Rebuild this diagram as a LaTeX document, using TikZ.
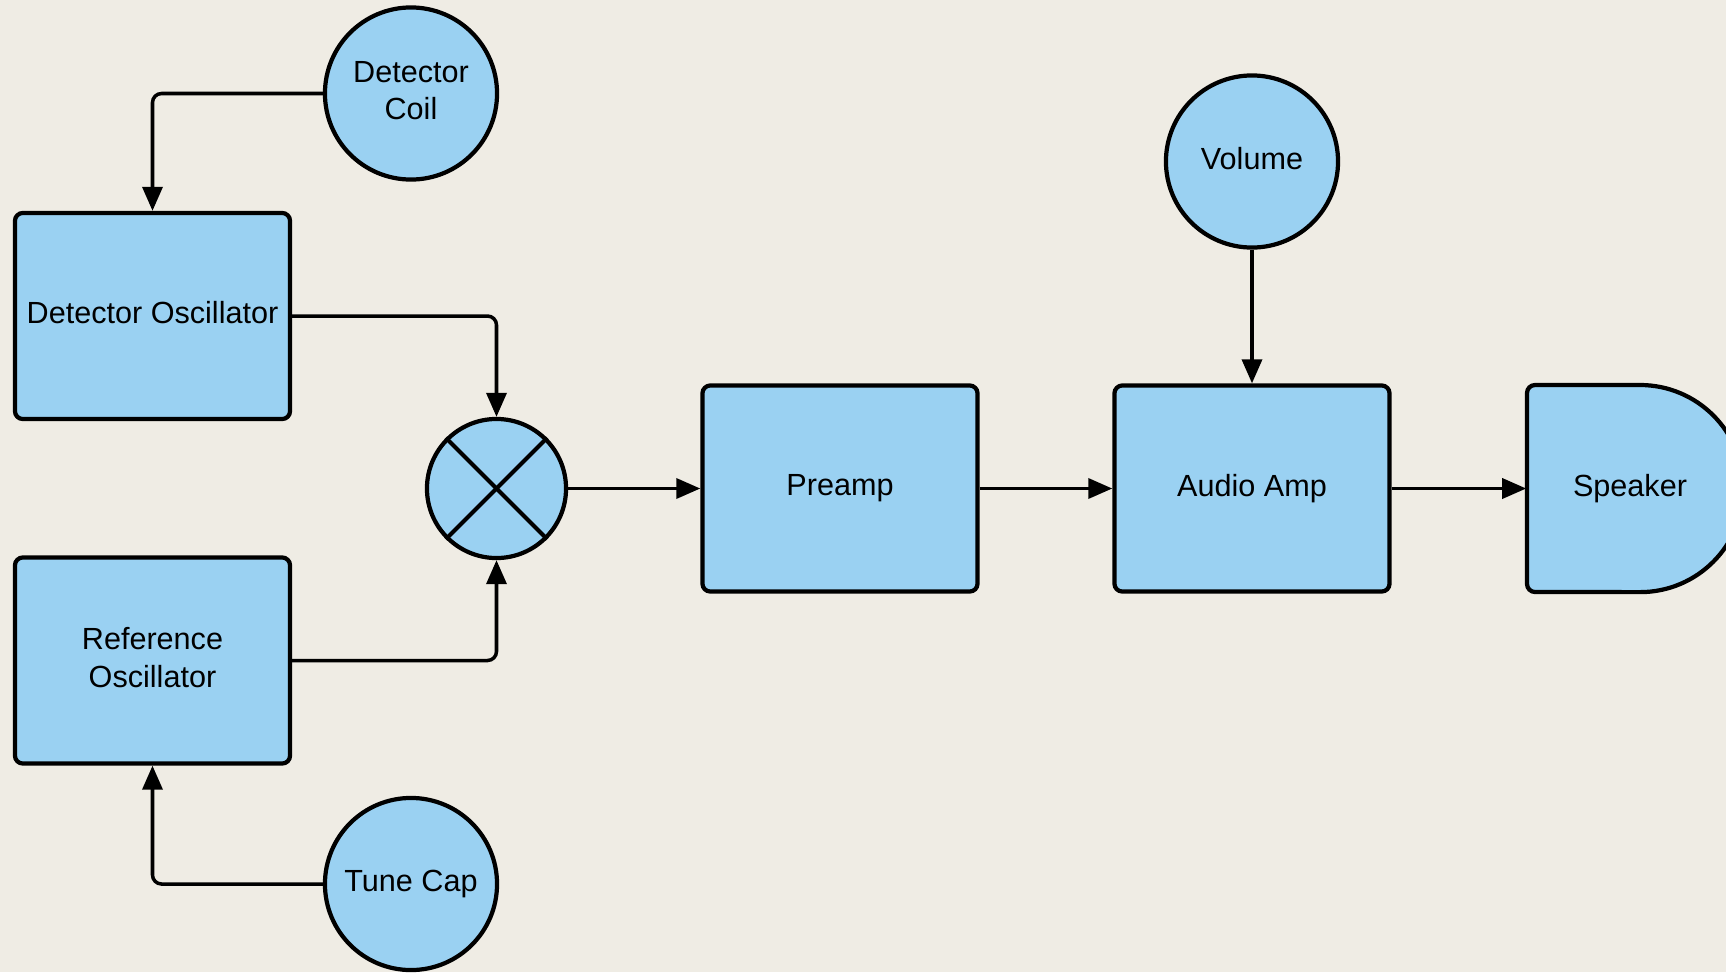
\documentclass[tikz,border=0pt]{standalone}
\usepackage{fontspec}
\setmainfont{Liberation Sans}
\usepackage{tikz}
\usetikzlibrary{arrows.meta}
\definecolor{lblue}{RGB}{154,209,242}
\definecolor{paper}{RGB}{239,236,228}
\tikzset{every picture/.style={x=0.01cm, y=0.01cm}}
\tikzset{every node/.style={font=\fontsize{8.7}{10.6}\selectfont, align=center, execute at end node=\vphantom{p}}}
\tikzset{block/.style={draw, fill=lblue, line width=1.2pt, rounded corners=0.08cm, minimum width=2.75cm, minimum height=2.06cm, inner sep=0pt}}
\tikzset{knob/.style={draw, fill=lblue, line width=1.2pt, circle, minimum size=1.72cm, inner sep=0pt}}
\tikzset{wire/.style={line width=1pt, rounded corners=0.09cm, -{Triangle[length=0.24cm, width=0.2cm]}}}

\begin{document}
\begin{tikzpicture}
\fill[paper] (0,0) rectangle (1726,-972);
\useasboundingbox (0,0) rectangle (1726,-972);
\clip (0,0) rectangle (1726,-972);
\node[knob] (1) at (411,-93.5) {Detector\\Coil};
\node[block] (2) at (152.5,-316) {Detector Oscillator};
\node[block] (3) at (152.5,-660.5) {Reference\\Oscillator};
\node[knob] (4) at (411,-884) {Tune Cap};
\node[knob, minimum size=1.39cm] (5) at (496.5,-488.5) {};
\node[block] (6) at (840,-488.5) {Preamp};
\node[knob] (7) at (1252,-161.5) {Volume};
\node[block] (8) at (1252,-488.5) {Audio Amp};
\draw[fill=lblue, line width=1.2pt] (1640,-385) arc[start angle=90, end angle=-90, radius=1.035cm] -- (1535,-592) arc[start angle=270, end angle=180, radius=0.08cm] -- (1527,-393) arc[start angle=180, end angle=90, radius=0.08cm] -- cycle;
\node[minimum width=2.06cm, minimum height=2.06cm, inner sep=0pt] (9) at (1630,-488.5) {Speaker};
\draw[line width=1.2pt] (5.north west) -- (5.south east);
\draw[line width=1.2pt] (5.north east) -- (5.south west);
\draw[wire] (1) -| (2);
\draw[wire] (4) -| (3);
\draw[wire] (2) -| (5);
\draw[wire] (3) -| (5);
\draw[wire] (5) -- (6);
\draw[wire] (6) -- (8);
\draw[wire] (7) -- (8);
\draw[wire] (8) -- (9);
\end{tikzpicture}
\end{document}
